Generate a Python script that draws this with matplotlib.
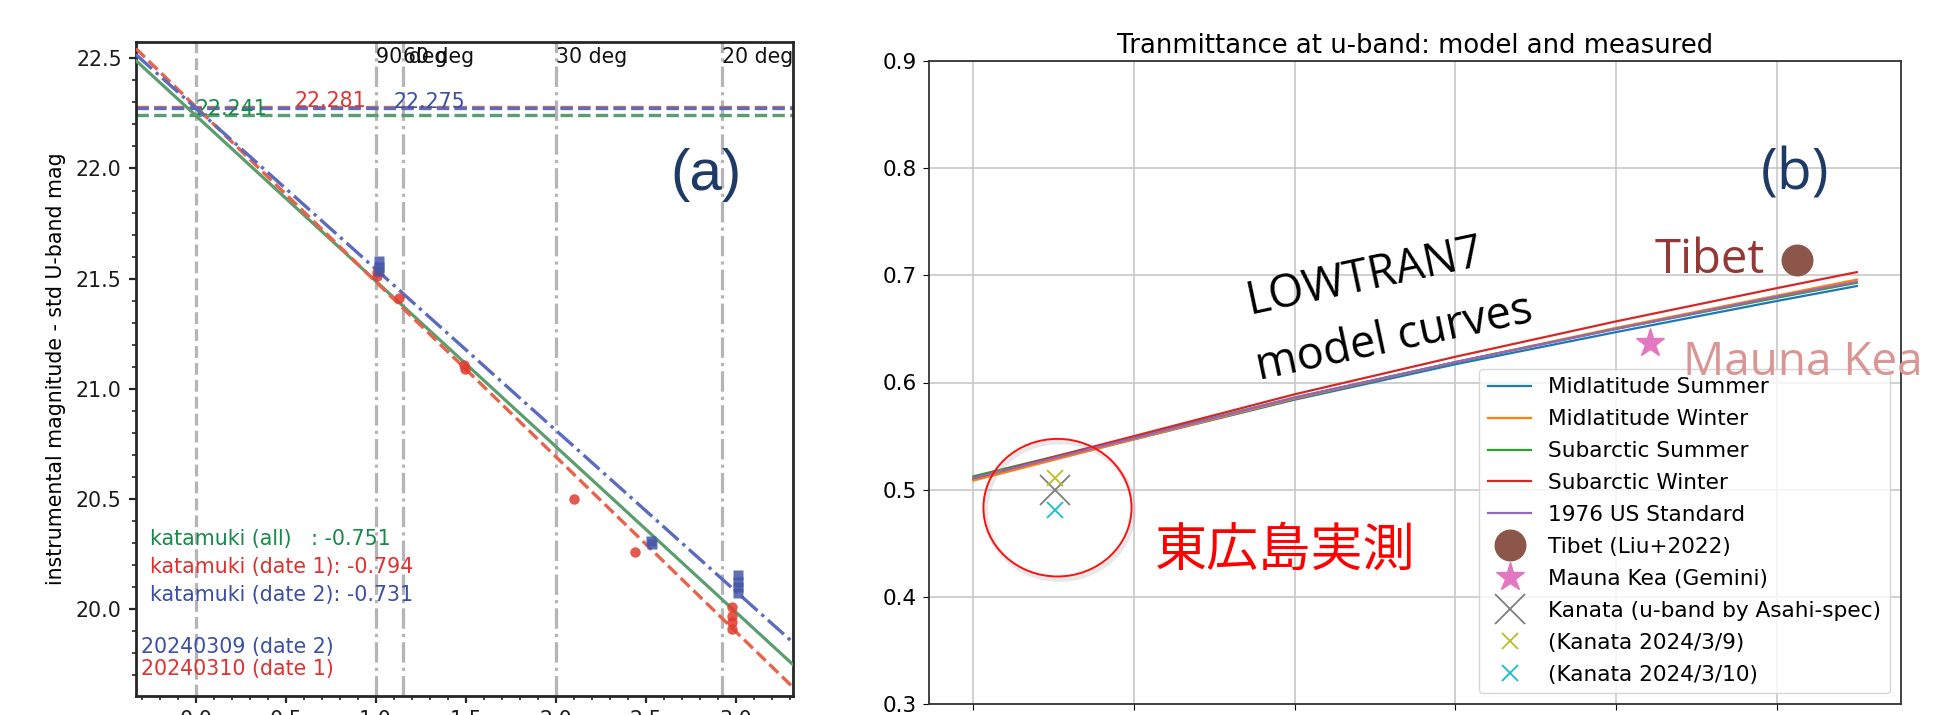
import matplotlib

matplotlib.use("Agg")
import matplotlib.pyplot as plt
import matplotlib.transforms as mtransforms
import numpy as np
from matplotlib.patches import Ellipse
from matplotlib.ticker import MultipleLocator

# (a) U-band extinction: airmass vs instrumental - standard magnitude
airmass_date1 = [1.01, 1.01, 1.13, 1.49, 1.495, 2.10, 2.44, 2.98, 2.98, 2.98, 2.98]
mag_date1 = [21.53, 21.51, 21.41, 21.11, 21.09, 20.50, 20.26, 20.01, 19.97, 19.94, 19.91]
airmass_date2 = [1.02, 1.02, 1.02, 2.53, 2.535, 3.015, 3.015, 3.015, 3.015]
mag_date2 = [21.58, 21.555, 21.535, 20.31, 20.295, 20.155, 20.125, 20.10, 20.075]

fit_names = ["all", "date 1", "date 2"]
fit_slopes = [-0.751, -0.794, -0.731]
fit_zeropoints = [22.241, 22.281, 22.275]
fit_label_x = [0.0, 0.55, 1.1]

elev_labels = ["90 deg", "60 deg", "30 deg", "20 deg"]
elev_airmass = [1.0, 1.1547, 2.0, 2.924]

date_labels = ["20240309 (date 2)", "20240310 (date 1)"]

# (b) u-band transmittance vs site altitude (km)
altitude_km = [0.0, 1.0, 2.0, 3.0, 4.0, 5.0, 5.5]
model_names = ["Midlatitude Summer", "Midlatitude Winter", "Subarctic Summer",
               "Subarctic Winter", "1976 US Standard"]
trans_mid_summer = [0.510, 0.547, 0.584, 0.617, 0.647, 0.676, 0.690]
trans_mid_winter = [0.5085, 0.547, 0.585, 0.619, 0.651, 0.681, 0.696]
trans_sub_summer = [0.5125, 0.549, 0.586, 0.619, 0.650, 0.679, 0.693]
trans_sub_winter = [0.511, 0.550, 0.589, 0.624, 0.657, 0.688, 0.703]
trans_us_std = [0.511, 0.548, 0.586, 0.619, 0.650, 0.680, 0.694]

tibet_alt, tibet_trans = 5.13, 0.714
maunakea_alt, maunakea_trans = 4.21, 0.637
kanata_alt = 0.51
kanata_trans = 0.500
kanata_0309 = 0.511
kanata_0310 = 0.481

W, H, DPI = 1958, 715, 100
fig = plt.figure(figsize=(W / DPI, H / DPI), dpi=DPI)
fig.patch.set_facecolor("white")


def px_axes(x0, y0, x1, y1):
    return fig.add_axes([x0 / W, 1 - y1 / H, (x1 - x0) / W, (y1 - y0) / H])


# ---------------- panel (a) ----------------
ax1 = px_axes(136, 42, 793, 696)
ax1.set_xlim(-0.331, 3.319)
ax1.set_ylim(19.606, 22.574)

line_cols = ["#5a9e6e", "#e8634a", "#5b6bbd"]
text_cols = ["#168a48", "#e03030", "#3a4fa6"]
fit_styles = ["-", "--", "-."]
fit_widths = [2.3, 2.4, 2.4]
grey = "#b5b5b8"

ax1.axvline(0.0, color=grey, ls="--", lw=2.3, zorder=1)
for xa in elev_airmass:
    ax1.axvline(xa, color=grey, ls="-.", lw=2.3, zorder=1)
for xa, lab in zip(elev_airmass, elev_labels):
    ax1.text(xa, 22.55, lab, fontsize=14.8, color="#111111", ha="left", va="top")

for zp, col in zip(fit_zeropoints, line_cols):
    ax1.axhline(zp, color=col, ls="--", lw=2.4, zorder=2)
for zp, col, lx in zip(fit_zeropoints, text_cols, fit_label_x):
    ax1.text(lx, zp, f"{zp:.3f}", color=col, fontsize=14.8, ha="left", va="baseline")

xs = np.array(ax1.get_xlim())
for zp, k, col, ls, lw in zip(fit_zeropoints, fit_slopes, line_cols, fit_styles, fit_widths):
    ax1.plot(xs, zp + k * xs, color=col, ls=ls, lw=lw, zorder=3)

ax1.plot(airmass_date1, mag_date1, "o", color="#e23b2e", ms=7.5, mec="none", alpha=0.85, zorder=4)
ax1.plot(airmass_date2, mag_date2, "s", color="#4457a8", ms=7.5, mec="none", alpha=0.85, zorder=4)

fit_text_y = [20.292, 20.164, 20.035]
for name, k, col, ty in zip(fit_names, fit_slopes, text_cols, fit_text_y):
    head = f"katamuki ({name})"
    if name == "all":
        head += "   "
    ax1.text(-0.253, ty, f"{head}: {k:.3f}", color=col, fontsize=14.8)
ax1.text(-0.305, 19.80, date_labels[0], color=text_cols[2], fontsize=14.8)
ax1.text(-0.305, 19.70, date_labels[1], color=text_cols[1], fontsize=14.8)

ax1.text(2.836, 21.97, "(a)", family="Liberation Sans", fontsize=42,
         color="#1e3a66", ha="center", va="center", zorder=10)

ax1.xaxis.set_major_locator(MultipleLocator(0.5))
ax1.xaxis.set_minor_locator(MultipleLocator(0.1))
ax1.yaxis.set_major_locator(MultipleLocator(0.5))
ax1.yaxis.set_minor_locator(MultipleLocator(0.1))
ax1.tick_params(which="major", length=5.3, width=1.6, pad=5, labelsize=14.8,
                color="#262626", labelcolor="#1a1a1a")
ax1.tick_params(which="minor", length=3.2, width=1.2, color="#262626")
for sp in ax1.spines.values():
    sp.set_linewidth(2.0)
    sp.set_color("#262626")
ax1.set_ylabel("instrumental magnitude - std U-band mag", fontsize=14.8, labelpad=7)

# ---------------- panel (b) ----------------
ax2 = px_axes(929.3, 61, 1901, 704)
model_series = [trans_mid_summer, trans_mid_winter, trans_sub_summer,
                trans_sub_winter, trans_us_std]
for name, vals in zip(model_names, model_series):
    ax2.plot(altitude_km, vals, lw=1.6, label=name)

ax2.plot([tibet_alt], [tibet_trans], "o", color="#8c564b", ms=22, label="Tibet (Liu+2022)")
ax2.plot([maunakea_alt], [maunakea_trans], "*", color="#e377c2", ms=21, label="Mauna Kea (Gemini)")
ax2.plot([kanata_alt], [kanata_trans], "x", color="#7f7f7f", ms=21, mew=1.3,
         label="Kanata (u-band by Asahi-spec)")
ax2.plot([kanata_alt], [kanata_0309], "x", color="#bcbd22", ms=12, mew=1.3, label="(Kanata 2024/3/9)")
ax2.plot([kanata_alt], [kanata_0310], "x", color="#17becf", ms=12, mew=1.3, label="(Kanata 2024/3/10)")

ax2.set_ylim(0.3, 0.9)
ax2.set_xticks([0, 1, 2, 3, 4, 5])
ax2.grid(True, color="#c8c8c8", lw=1.2)
ax2.tick_params(labelsize=15.6, length=4.3, pad=4.7)
for sp in ax2.spines.values():
    sp.set_linewidth(1.3)
    sp.set_color("#333333")
ax2.set_title("Tranmittance at u-band: model and measured", fontsize=18.6, pad=6)
ax2.legend(loc="lower right", fontsize=15.6, labelspacing=0.55, borderpad=0.4)

# highlight ring round the Higashi-Hiroshima points
ring = dict(xy=(0.523, 0.4832), width=0.922, height=0.1284, fill=False)
shadow_tr = mtransforms.offset_copy(ax2.transData, fig=fig, x=2, y=-3, units="dots")
ax2.add_patch(Ellipse(**ring, transform=shadow_tr, ec="#9a9a9a", lw=3.5, alpha=0.22, zorder=8))
ax2.add_patch(Ellipse(**ring, ec="#ff1010", lw=1.4, zorder=9))

ax2.text(1.13, 0.4424, "東広島実測", family=["Noto Sans CJK JP", "DejaVu Sans"],
         fontsize=37.5, color="#ff0000", ha="left", va="center", zorder=10)
ax2.text(1.718, 0.664, "LOWTRAN7", family="Open Sans", fontsize=32.5, rotation=12,
         rotation_mode="anchor", ha="left", va="baseline", zorder=10)
ax2.text(1.776, 0.6024, "model curves", family="Open Sans", fontsize=32.5, rotation=12,
         rotation_mode="anchor", ha="left", va="baseline", zorder=10)
ax2.text(4.242, 0.7025, "Tibet", family="Open Sans", fontsize=34, color="#953735",
         ha="left", va="baseline", zorder=10)
ax2.text(4.416, 0.6071, "Mauna Kea", family="Open Sans", fontsize=33, color="#d99694",
         ha="left", va="baseline", zorder=10)
ax2.text(5.113, 0.7937, "(b)", family="Open Sans", fontsize=41, color="#1e3a66",
         ha="center", va="center", zorder=10)

fig.savefig("out.png", dpi=DPI)
